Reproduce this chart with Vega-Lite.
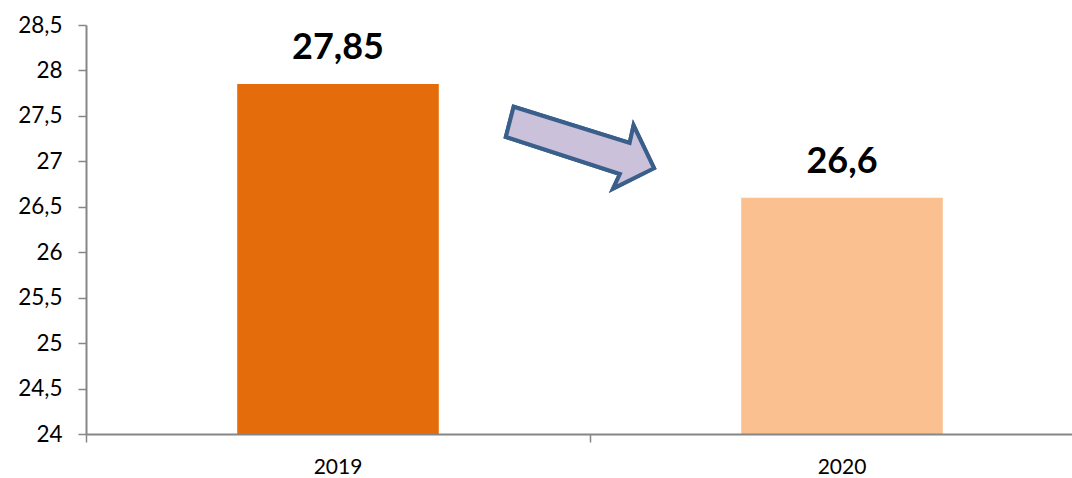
{
  "$schema": "https://vega.github.io/schema/vega-lite/v6.json",
  "width": 986,
  "height": 409,
  "autosize": "none",
  "padding": {"left": 86, "top": 25, "right": 0, "bottom": 44},
  "background": "white",
  "config": {
    "view": {"stroke": null},
    "locale": {"number": {"decimal": ",", "thousands": ".", "grouping": [3], "currency": ["", " €"]}},
    "font": "Lato"
  },
  "data": {"values": [
    {"year": "2019", "value": 27.85},
    {"year": "2020", "value": 26.6}
  ]},
  "layer": [
    {
      "mark": {"type": "bar", "width": {"band": 0.4}},
      "encoding": {
        "x": {"field": "year", "type": "nominal",
              "scale": {"range": [0, 1008], "paddingInner": 0, "paddingOuter": 0},
              "axis": {"title": null, "labelAngle": 0, "bandPosition": 0, "domainColor": "#868686", "domainWidth": 2, "tickColor": "#868686", "tickWidth": 1.5, "tickSize": 8, "labelFont": "Lato", "labelFontSize": 21, "labelColor": "#000000", "labelPadding": 14, "grid": false, "zindex": 1}},
        "y": {"field": "value", "type": "quantitative",
              "scale": {"domain": [24, 28.5], "nice": false, "zero": false},
              "axis": {"title": null, "values": [24, 24.5, 25, 25.5, 26, 26.5, 27, 27.5, 28, 28.5], "format": ".1~f", "grid": false, "domainColor": "#868686", "domainWidth": 2, "tickColor": "#868686", "tickWidth": 1.5, "tickSize": 8, "labelFont": "Lato", "labelFontSize": 22.5, "labelColor": "#000000", "labelPadding": 16, "zindex": 1}},
        "y2": {"datum": 24},
        "color": {"field": "year", "type": "nominal", "legend": null,
                  "scale": {"domain": ["2019", "2020"], "range": ["#E46C0A", "#FAC090"]}}
      }
    },
    {
      "mark": {"type": "text", "baseline": "alphabetic", "dy": -25, "fontSize": 36, "fontWeight": "bold", "font": "Lato", "color": "#000000"},
      "encoding": {
        "x": {"field": "year", "type": "nominal"},
        "y": {"field": "value", "type": "quantitative"},
        "text": {"field": "value", "type": "quantitative", "format": ".2~f"}
      }
    },
    {
      "mark": {"type": "point", "shape": "M-0.85,-0.525L0.6375,-0.0625L0.6875,-0.2875L0.95,0.2625L0.425,0.525L0.5125,0.3375L-0.95,-0.1375Z", "size": 24336, "filled": true, "fill": "#CCC1DA", "stroke": "#3A5F8B", "strokeWidth": 4, "opacity": 1, "strokeJoin": "miter"},
      "encoding": {
        "x": {"datum": "2019", "type": "nominal", "bandPosition": 0.98},
        "y": {"datum": 27.15, "type": "quantitative"}
      }
    }
  ]
}
